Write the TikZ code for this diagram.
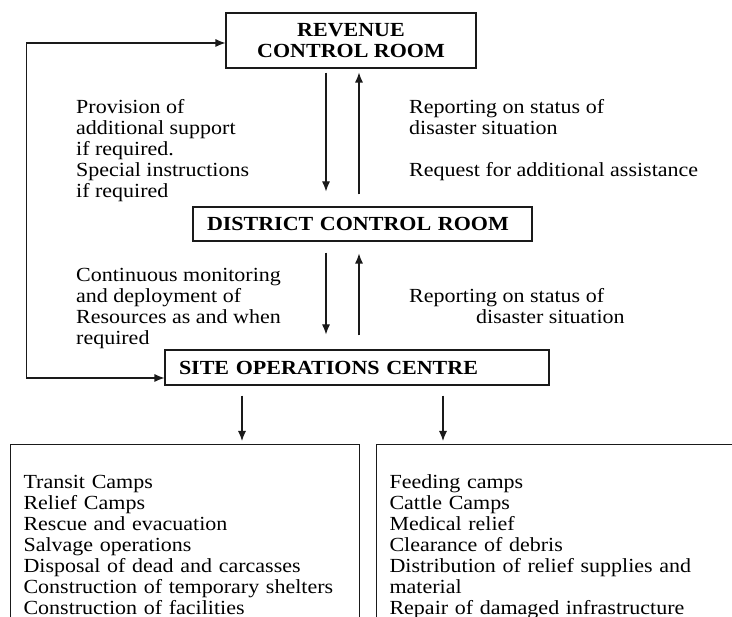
\documentclass[tikz,border=0pt]{standalone}
\usepackage{fontspec}
\setmainfont{Liberation Serif}[FakeStretch=1.1]
\usepackage{xcolor}
\definecolor{lineDark}{HTML}{1A1A1A}
\usepackage{tikz}
\usetikzlibrary{positioning,calc,arrows.meta}
\tikzset{%
  roomBox/.style={%
    rectangle,
    draw=lineDark,
    line width=1.1pt,
    font=\fontsize{20}{21}\selectfont\bfseries,
    inner sep=0pt,
    align=center
  },
  listBox/.style={%
    rectangle,
    draw=lineDark,
    line width=1.1pt,
    anchor=north west,
    font=\fontsize{20}{21}\selectfont,
    inner xsep=13pt,
    inner ysep=29.3pt,
    align=left
  },
  noteText/.style={%
    anchor=north west,
    inner sep=0pt,
    font=\fontsize{20}{21}\selectfont,
    align=left
  },
  arrowLine/.style={%
    -{Latex[length=10pt,width=8pt]},
    line width=1.1pt,
    color=lineDark
  },
  twoWayLine/.style={%
    arrowLine,
    {Latex[length=10pt,width=8pt]}-{Latex[length=10pt,width=8pt]}
  }
}

\begin{document}
\begin{tikzpicture}[x=1pt,y=-1pt]
  \path[use as bounding box, fill=white] (0,0) rectangle (732,617);
  \clip (0,0) rectangle (732,617);

  \node[roomBox, minimum width=250pt, minimum height=55pt] (revenue) at (351,40.5) {REVENUE\\CONTROL ROOM};
  \node[roomBox, minimum width=339pt, minimum height=34pt, text width=311pt, align=left] (district) at (362.5,224) {DISTRICT CONTROL ROOM};
  \node[roomBox, minimum width=384pt, minimum height=35pt, text width=356pt, align=left] (site) at (357,367.5) {SITE OPERATIONS CENTRE};

  \node[noteText] (provisionNote) at (76,98.3) {\strut Provision of\\ additional support\\ if required.\\ Special instructions\\ if required};
  \node[noteText] (reportNote) at (409,98.3) {\strut Reporting on status of\\ disaster situation};
  \node[noteText] (requestNote) at (409,161.3) {\strut Request for additional assistance};
  \node[noteText] (monitorNote) at (76,266.3) {\strut Continuous monitoring\\ and deployment of\\ Resources as and when\\ required};
  \node[noteText] (reportNoteB) at (409,287.3) {\strut Reporting on status of\\ \hspace*{67pt}disaster situation};

  \node[listBox, text width=323pt] (campBox) at (10,444) {\strut Transit Camps\\ Relief Camps\\ Rescue and evacuation\\ Salvage operations\\ Disposal of dead and carcasses\\ Construction of temporary shelters\\ Construction of facilities};
  \node[listBox, text width=360pt] (supportBox) at (376,444) {\strut Feeding camps\\ Cattle Camps\\ Medical relief\\ Clearance of debris\\ Distribution of relief supplies and\\ material\\ Repair of damaged infrastructure};

  % control room links
  \coordinate (orderDown) at ($(revenue.south)+(-25,4)$);
  \coordinate (reportUp) at ($(revenue.south)+(8,4)$);
  \coordinate (deployDown) at ($(district.south)+(-36.5,11)$);
  \coordinate (siteUp) at ($(district.south)+(-3.5,12)$);
  \draw[arrowLine] (orderDown) -- ([yshift=15pt]orderDown |- district.north);
  \draw[arrowLine] ([yshift=12pt]reportUp |- district.north) -- (reportUp);
  \draw[arrowLine] (deployDown) -- ([yshift=15pt]deployDown |- site.north);
  \draw[arrowLine] ([yshift=14pt]siteUp |- site.north) -- (siteUp);
  \draw[twoWayLine] ($(revenue.west)+(0,2.5)$) -- ++(-199,0) |- ($(site.west)+(0,10.5)$);

  % site to field work
  \coordinate (campOut) at ($(site.south)+(-115,10)$);
  \coordinate (supportOut) at ($(site.south)+(86,10)$);
  \draw[arrowLine] (campOut) -- ([yshift=3pt]campOut |- campBox.north);
  \draw[arrowLine] (supportOut) -- ([yshift=3pt]supportOut |- supportBox.north);
\end{tikzpicture}
\end{document}
